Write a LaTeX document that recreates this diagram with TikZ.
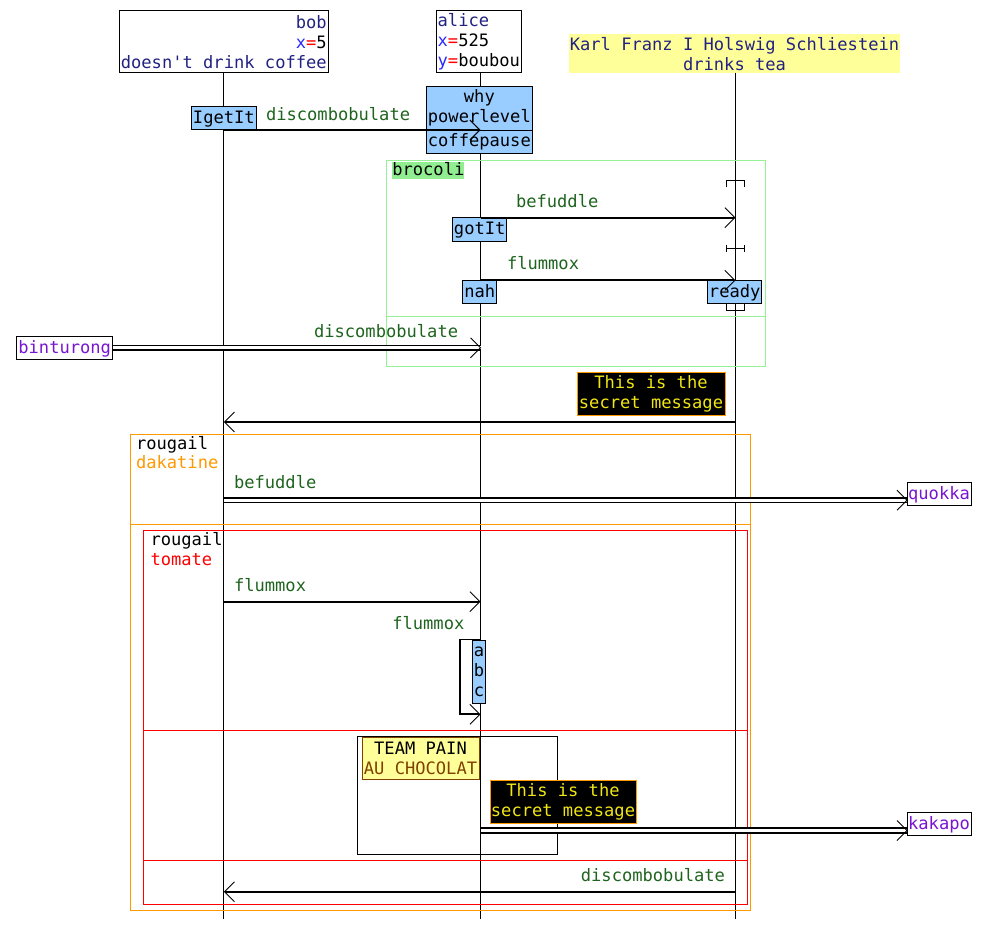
\documentclass[tikz,border=0pt]{standalone}
\usepackage{fontspec}
\newfontfamily\monof[Ligatures=ResetAll]{DejaVu Sans Mono}
\usetikzlibrary{arrows.meta}
\definecolor{navy}{RGB}{34,34,130}
\definecolor{xblue}{RGB}{40,40,255}
\definecolor{msggreen}{RGB}{30,100,30}
\definecolor{actblue}{RGB}{153,204,255}
\definecolor{grpgreen}{RGB}{150,240,150}
\definecolor{lblgreen}{RGB}{144,238,144}
\definecolor{grporange}{RGB}{255,153,0}
\definecolor{notey}{RGB}{255,255,153}
\definecolor{purp}{RGB}{120,20,210}
\definecolor{secretyellow}{RGB}{240,230,20}
\definecolor{brownc}{RGB}{128,64,0}
\begin{document}
\begin{tikzpicture}[x=1pt,y=-1pt,
  every node/.style={font=\monof\fontsize{17.1}{20}\selectfont, inner sep=0pt, outer sep=0pt},
  life/.style={line width=1pt},
  msg/.style={line width=1.9pt, -{Straight Barb[length=10pt,width=20pt,line width=0.9pt]}},
  dmsg/.style={line width=1.7pt, double, double distance=3pt},
  barb/.style={line width=0.9pt},
  lbl/.style={text=msggreen, anchor=base west},
  lblr/.style={text=msggreen, anchor=base east},
  onebox/.style={draw, line width=1pt, anchor=north west, text height=13pt, text depth=2.5pt},
  actbox/.style={onebox, fill=actblue},
  multibox/.style={draw, line width=1pt, anchor=north west, align=center},
  endbox/.style={onebox, fill=white, text=purp},
  secret/.style={multibox, fill=black, draw=grporange, text=secretyellow},
  grptitle/.style={anchor=base west},
]
\fill[white] (0,0) rectangle (988,929);
\useasboundingbox (0,0) rectangle (988,929);

% participants
\node[draw, line width=1pt, minimum width=209, minimum height=62, anchor=north west, align=right] (bob) at (119.3,10.7)
  {\textcolor{navy}{bob}\\\textcolor{xblue}{x}\textcolor{red}{=}5\\\textcolor{navy}{doesn't drink coffee}};
\node[draw, line width=1pt, minimum width=85.7, minimum height=62, anchor=north west, align=left] (alice) at (436,10.7)
  {\textcolor{navy}{alice}\\\textcolor{xblue}{x}\textcolor{red}{=}525\\\textcolor{xblue}{y}\textcolor{red}{=}boubou};
\node[fill=notey, minimum width=331, minimum height=39.3, anchor=north west, align=center, text=navy] (karl) at (569,34)
  {Karl Franz I Holswig Schliestein\\drinks tea};

\coordinate (bx) at (bob.south);
\coordinate (ax) at (480.5,72.7);
\coordinate (kx) at (735.5,72.7);
\coordinate (bend) at (bob.south |- 0,919);
\coordinate (aend) at (480.5,919);
\coordinate (kend) at (735.5,919);

% lifelines
\draw[life] (bx) -- (bend);
\draw[life] (ax) -- (aend);
\draw[life] (kx) -- (kend);

% group brocoli
\draw[grpgreen, line width=1pt] (386.5,160.5) rectangle (765.5,366);
\draw[grpgreen, line width=1pt] (386.5,316.5) -- (765.5,316.5);
\node[fill=lblgreen, anchor=north west, minimum width=71.7, minimum height=17.6, text height=13pt, text depth=2.5pt] (broc) at (392.3,161.7) {brocoli};

% slice markers on Karl
\draw[line width=1pt] (726.7,186.7) -- (726.7,180.7) -- (744.3,180.7) -- (744.3,186.7);
\draw[line width=1pt] (726.7,245) -- (726.7,251.7) (744.3,245) -- (744.3,251.7) (726.7,248.3) -- (744.3,248.3);
\draw[line width=1pt] (726.7,303) -- (726.7,310) -- (744.3,310) -- (744.3,303);

% group rougail (orange)
\draw[grporange, line width=1pt] (130,434) rectangle (750,910);
\draw[grporange, line width=1pt] (130,524) -- (750,524);
\node[grptitle] (rg1) at (136,449.3) {rougail};
\node[grptitle, text=grporange] (rg1c) at (136,468.3) {dakatine};

% group rougail (red)
\draw[red, line width=1pt] (143.5,530.5) rectangle (747,904);
\draw[red, line width=1pt] (143.5,730.5) -- (747,730.5);
\draw[red, line width=1pt] (143.5,860) -- (747,860);
\node[grptitle] (rg2) at (150.5,545.7) {rougail};
\node[grptitle, text=red] (rg2c) at (150.5,565) {tomate};

% team pain box
\draw[line width=1pt] (357,736.5) rectangle (557,854);
\node[multibox, fill=notey, draw=brownc, line width=0.8pt, minimum width=117, minimum height=42] (team) at (362,737)
  {TEAM PAIN\\\textcolor{brownc}{AU CHOCOLAT}};

% activation / note boxes
\node[actbox, minimum width=64.3, minimum height=22.6] (igetit) at (191.7,106.7) {IgetIt};
\node[multibox, fill=actblue, minimum width=106.7, minimum height=44] (why) at (426,86) {why\\powerlevel};
\node[actbox, minimum width=106.7, minimum height=23] (coffe) at (426,130) {coffepause};
\node[actbox, minimum width=54, minimum height=24] (gotit) at (452.7,217.7) {gotIt};
\node[actbox, minimum width=34, minimum height=22.6] (nah) at (462.7,280.7) {nah};
\node[actbox, minimum width=54, minimum height=22.6] (ready) at (707.7,280.7) {ready};
\node[multibox, fill=actblue, minimum width=12.6, minimum height=63] (abc) at (472.7,640) {a\\b\\c};

\node[endbox, minimum width=96, minimum height=22.3] (bint) at (16.7,336.7) {binturong};
\node[endbox, minimum width=64, minimum height=23.4] (quokka) at (907,482.3) {quokka};
\node[endbox, minimum width=64, minimum height=23.7] (kakapo) at (907,812) {kakapo};

\node[secret, minimum width=148, minimum height=43.4] (sec1) at (577,372.3) {This is the\\secret message};
\node[secret, minimum width=146, minimum height=42.3] (sec2) at (490,780.7) {This is the\\secret message};

% messages
\draw[msg] (bx |- 0,130) -- (ax |- 0,130);
\node[lbl] (l1) at (266,120) {discombobulate};

\draw[msg] (ax |- 0,217.7) -- (kx |- 0,217.7);
\node[lbl] (l2) at (516,207.7) {befuddle};

\draw[msg] (ax |- 0,280.3) -- (kx |- 0,280.3);
\node[lbl] (l3) at (507,269.3) {flummox};

\coordinate (bt) at (ax |- bint.east);
\draw[dmsg] (bint.east) -- (bt);
\draw[barb] ([shift={(-10,-10)}]bt) -- (bt) -- ([shift={(-10,10)}]bt);
\node[lbl] (l4) at (314,337.3) {discombobulate};

\draw[msg] (kx |- 0,422) -- (bx |- 0,422);

\coordinate (qt) at (quokka.west |- 0,500.2);
\draw[dmsg] (bx |- qt) -- (qt);
\draw[barb] ([shift={(-10,-10)}]qt) -- (qt) -- ([shift={(-10,10)}]qt);
\node[lbl] (l6) at (234,488.3) {befuddle};

\draw[msg] (bx |- 0,601.7) -- (ax |- 0,601.7);
\node[lbl] (l7) at (234,591.7) {flummox};

\draw[msg] (ax |- 0,639.5) -- (460,639.5) -- (460,714.3) -- (ax |- 0,714.3);
\node[lbl] (l8) at (392.3,629.3) {flummox};

\coordinate (kt) at (kakapo.west |- 0,830.5);
\draw[dmsg] (ax |- kt) -- (kt);
\draw[barb] ([shift={(-10,-10)}]kt) -- (kt) -- ([shift={(-10,10)}]kt);

\draw[msg] (kx |- 0,891.7) -- (bx |- 0,891.7);
\node[lblr] (l10) at (725,881.3) {discombobulate};
\end{tikzpicture}
\end{document}
